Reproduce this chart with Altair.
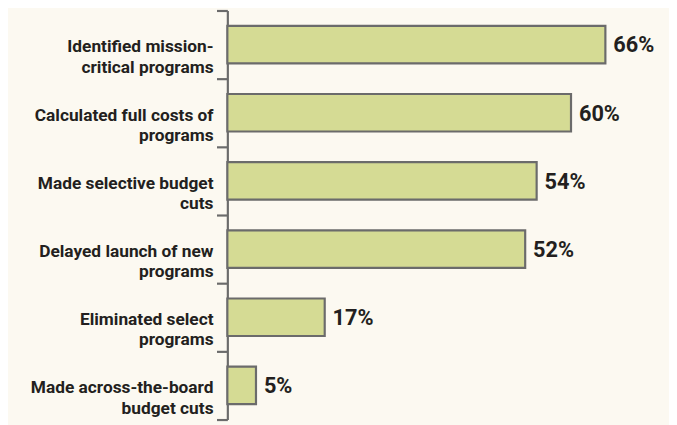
import altair as alt
import pandas as pd

categories = [
    "Identified mission-\ncritical programs",
    "Calculated full costs of\nprograms",
    "Made selective budget\ncuts",
    "Delayed launch of new\nprograms",
    "Eliminated select\nprograms",
    "Made across-the-board\nbudget cuts",
]
values = [66, 60, 54, 52, 17, 5]
value_labels = ["66%", "60%", "54%", "52%", "17%", "5%"]

df = pd.DataFrame({"cat": categories, "val": values, "lab": value_labels})

yscale = alt.Scale(domain=categories, paddingInner=0, paddingOuter=0)
xscale = alt.Scale(domain=[0, 69])

base = alt.Chart(df)

bars = base.mark_bar(fill="#d5db94", stroke="#6b6b6b", strokeWidth=2.2,
                     height={"band": 0.55}).encode(
    y=alt.Y("cat:N", scale=yscale, sort=categories,
            axis=alt.Axis(title=None, labels=False, tickBand="extent",
                          domainColor="#6b6b6b", domainWidth=2.2,
                          tickColor="#6b6b6b", tickWidth=2.2, tickSize=11)),
    x=alt.X("val:Q", scale=xscale, axis=None),
)

vals = base.mark_text(align="left", baseline="middle", dx=8, dy=1, fontSize=22,
                      fontWeight="bold", font="Roboto", color="#231f20").encode(
    y=alt.Y("cat:N", scale=yscale, sort=categories),
    x=alt.X("val:Q", scale=xscale),
    text="lab:N",
)

cats = base.mark_text(align="right", baseline="middle", dy=3, fontSize=17.5,
                      fontWeight="bold", font="Roboto", color="#231f20",
                      lineBreak="\n", lineHeight=20.5).encode(
    y=alt.Y("cat:N", scale=yscale, sort=categories),
    x=alt.value(-14),
    text="cat:N",
)

chart = alt.layer(bars, vals, cats).properties(
    width=400, height=414,
    autosize=alt.AutoSizeParams(type="none"),
    padding={"left": 222, "top": 0, "right": 47, "bottom": 3},
    background="#fcf9f1",
).configure_view(stroke=None)

chart.save("out.html", embed_options={"renderer": "svg", "actions": False})
